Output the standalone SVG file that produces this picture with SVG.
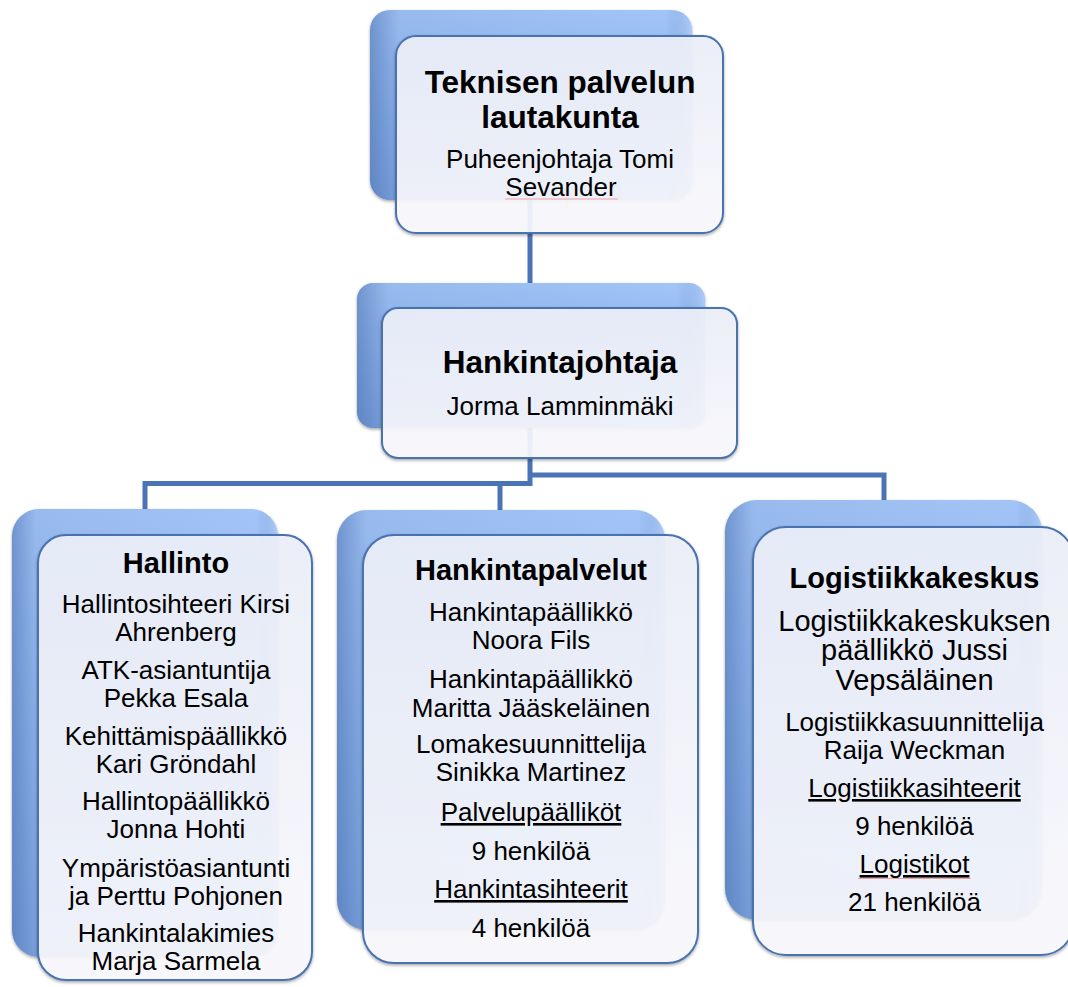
<svg xmlns="http://www.w3.org/2000/svg" width="1068" height="987" viewBox="0 0 1068 987">
<defs>
<linearGradient id="backV" x1="0" y1="0" x2="0" y2="1">
<stop offset="0" stop-color="#a2c4f6"/>
<stop offset="0.5" stop-color="#8fb5ed"/>
<stop offset="1" stop-color="#7fa6e0"/>
</linearGradient>
<linearGradient id="backH" x1="0" y1="0" x2="1" y2="0">
<stop offset="0" stop-color="#3f64a6" stop-opacity="0.5"/>
<stop offset="0.09" stop-color="#3f64a6" stop-opacity="0.1"/>
<stop offset="0.92" stop-color="#3f64a6" stop-opacity="0"/>
<stop offset="1" stop-color="#c8ddff" stop-opacity="0.4"/>
</linearGradient>
<linearGradient id="frontV" x1="0" y1="0" x2="0" y2="1">
<stop offset="0" stop-color="#eef1fb"/>
<stop offset="1" stop-color="#fbfbff"/>
</linearGradient>
<filter id="sh" x="-10%" y="-10%" width="120%" height="120%">
<feDropShadow dx="0" dy="1.5" stdDeviation="1.8" flood-color="#000" flood-opacity="0.35"/>
</filter>
</defs>
<style>
.back{fill:url(#backV);}
.bevel{fill:url(#backH);}
.front{fill:url(#frontV);fill-opacity:0.9;stroke:#4a72b0;stroke-width:2;}
.conn{fill:none;stroke:#4a74b5;stroke-width:5;stroke-linejoin:miter;}
text{font-family:"Liberation Sans",Arial,sans-serif;fill:#000;text-anchor:middle;}
.t1{font-size:31.5px;font-weight:bold;}
.t2{font-size:29px;font-weight:bold;}
.r{font-size:26px;}
.r29{font-size:29px;}
.u{text-decoration:underline;}
.sq{stroke:#e9a3a3;stroke-width:1;fill:none;}
</style>

<g id="connectors">
<path class="conn" d="M530 198 V285"/>
<path class="conn" d="M530 426 V486"/>
<path class="conn" d="M530 475 H884 V502"/>
<path class="conn" d="M532 483.5 H145 V511"/>
<path class="conn" d="M500 483.5 V512"/>
</g>

<g id="node-lautakunta">
<g filter="url(#sh)">
<rect class="back" x="370" y="10" width="322" height="190" rx="20"/>
</g>
<rect class="bevel" x="370" y="10" width="322" height="190" rx="20"/>
<rect class="front" x="396" y="36" width="327" height="197" rx="20" filter="url(#sh)"/>
<text class="t1" x="560" y="93">Teknisen palvelun</text>
<text class="t1" x="560" y="128">lautakunta</text>
<text class="r" x="560" y="168">Puheenjohtaja Tomi</text>
<text class="r" x="561" y="196">Sevander</text>
<path class="sq" d="M505 199 H618"/>
</g>

<g id="node-hankintajohtaja">
<g filter="url(#sh)">
<rect class="back" x="357" y="283" width="348" height="145" rx="16"/>
</g>
<rect class="bevel" x="357" y="283" width="348" height="145" rx="16"/>
<rect class="front" x="382" y="308" width="355" height="150" rx="16" filter="url(#sh)"/>
<text class="t1" x="560" y="373">Hankintajohtaja</text>
<text class="r" x="560" y="415">Jorma Lamminmäki</text>
</g>

<g id="node-hallinto">
<g filter="url(#sh)">
<rect class="back" x="12" y="509" width="266" height="448" rx="27"/>
</g>
<rect class="bevel" x="12" y="509" width="266" height="448" rx="27"/>
<rect class="front" x="38" y="535" width="274" height="445" rx="28" filter="url(#sh)"/>
<text class="t2" x="176" y="573">Hallinto</text>
<text class="r" x="176" y="613">Hallintosihteeri Kirsi</text>
<text class="r" x="176" y="641">Ahrenberg</text>
<text class="r" x="176" y="679">ATK-asiantuntija</text>
<text class="r" x="176" y="707">Pekka Esala</text>
<text class="r" x="176" y="745">Kehittämispäällikkö</text>
<text class="r" x="176" y="773">Kari Gröndahl</text>
<text class="r" x="176" y="810">Hallintopäällikkö</text>
<text class="r" x="176" y="838">Jonna Hohti</text>
<text class="r" x="176" y="877">Ympäristöasiantunti</text>
<text class="r" x="176" y="905">ja Perttu Pohjonen</text>
<text class="r" x="176" y="942">Hankintalakimies</text>
<text class="r" x="176" y="970">Marja Sarmela</text>
</g>

<g id="node-hankintapalvelut">
<g filter="url(#sh)">
<rect class="back" x="337" y="510" width="328" height="420" rx="30"/>
</g>
<rect class="bevel" x="337" y="510" width="328" height="420" rx="30"/>
<rect class="front" x="363" y="535" width="335" height="428" rx="31" filter="url(#sh)"/>
<text class="t2" x="531" y="580">Hankintapalvelut</text>
<text class="r" x="531" y="621">Hankintapäällikkö</text>
<text class="r" x="531" y="649">Noora Fils</text>
<text class="r" x="531" y="688">Hankintapäällikkö</text>
<text class="r" x="531" y="717">Maritta Jääskeläinen</text>
<text class="r" x="531" y="753">Lomakesuunnittelija</text>
<text class="r" x="531" y="781">Sinikka Martinez</text>
<text class="r u" x="531" y="821">Palvelupäälliköt</text>
<text class="r" x="531" y="860">9 henkilöä</text>
<text class="r u" x="531" y="898">Hankintasihteerit</text>
<text class="r" x="531" y="937">4 henkilöä</text>
</g>

<g id="node-logistiikkakeskus">
<g filter="url(#sh)">
<rect class="back" x="725" y="500" width="317" height="420" rx="32"/>
</g>
<rect class="bevel" x="725" y="500" width="317" height="420" rx="32"/>
<rect class="front" x="753" y="527" width="321" height="428" rx="33" filter="url(#sh)"/>
<text class="t2" x="914.5" y="588">Logistiikkakeskus</text>
<text class="r29" x="914.5" y="631">Logistiikkakeskuksen</text>
<text class="r29" x="914.5" y="660">päällikkö Jussi</text>
<text class="r29" x="914.5" y="690">Vepsäläinen</text>
<text class="r" x="914.5" y="731">Logistiikkasuunnittelija</text>
<text class="r" x="914.5" y="759">Raija Weckman</text>
<text class="r u" x="914.5" y="797">Logistiikkasihteerit</text>
<text class="r" x="914.5" y="835">9 henkilöä</text>
<text class="r u" x="914.5" y="873">Logistikot</text>
<path class="sq" d="M858 878.5 H971"/>
<text class="r" x="914.5" y="911">21 henkilöä</text>
</g>
</svg>
